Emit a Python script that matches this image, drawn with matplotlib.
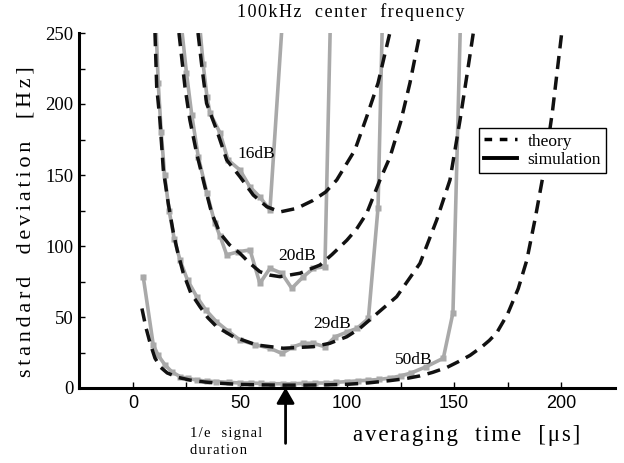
import matplotlib
matplotlib.use('Agg')
import matplotlib.pyplot as plt
from matplotlib.lines import Line2D

# theory curves (dashed)
t16_x = [30.4, 32.3, 34.4, 39.1, 43.8, 50.0, 56.2, 62.5, 68.7, 76.5, 84.0, 90.0, 95.2, 103.7, 109.2, 114.5, 120.0]
t16_y = [250, 225, 200.5, 181.7, 160.6, 148.8, 135.9, 127.7, 124.0, 126.5, 132.0, 138.0, 146.5, 167.6, 191.0, 214.7, 250]

t20_x = [21.5, 24.3, 26.6, 29.8, 33.6, 36.8, 40.7, 45.0, 50.0, 54.5, 59.3, 64.0, 68.7, 78.0, 87.4, 93.0, 99.9, 104.5, 109.2, 115.4, 120.1, 125.0, 129.4, 134.1]
t20_y = [250, 212, 188.7, 165, 141.8, 123, 109, 101, 94.8, 88, 81.9, 79.5, 78.4, 80.8, 86.6, 94, 104, 112, 123, 146.5, 162.7, 187, 214.8, 250]

t29_x = [10.3, 11.1, 12.6, 14.2, 16.5, 18.8, 21.0, 23.5, 27.0, 31.3, 35.0, 39.1, 46.9, 57.8, 70.2, 84.3, 92.0, 99.9, 106.0, 112.3, 123.2, 134.1, 141.9, 148.1, 152.8, 155.9, 159.0]
t29_y = [250, 212, 188.7, 153.5, 130, 110, 95, 81, 67, 57.3, 49.5, 43.2, 36.1, 30.3, 28, 29.1, 31.5, 36.1, 42, 50.2, 64.3, 87.8, 118.3, 146.5, 188.7, 219, 250]

t50_x = [4.2, 6.0, 8.0, 10.3, 13.0, 16.0, 21.0, 26.6, 33.0, 39.0, 50.0, 60.0, 70.0, 80.0, 90.0, 100.0, 110.0, 120.0, 127.0, 134.0, 140.0,
         146.7, 152.0, 157.5, 163.0, 166.5, 170.0, 175.0, 180.0, 184.0, 188.0, 192.0, 196.0, 200.3]
t50_y = [56, 43, 31.7, 21, 14.5, 10.6, 7.5, 5.6, 4.3, 3.5, 2.5, 2.2, 2.0, 2.0, 2.2, 2.6, 3.6, 5.2, 6.5, 8.5, 11,
         14.5, 18.5, 23, 29, 33.5, 39, 52, 70, 90, 120, 153, 195, 250]

# simulation curves (grey with square markers)
s16_x = [31.5, 32.8, 34.6, 36.0, 40.7, 44.4, 50.0, 54.7, 59.3, 64.0, 70.3]
s16_y = [250, 228, 205, 193.6, 179.6, 160.6, 153.5, 141.5, 134.5, 125.3, 270]

s20_x = [23.0, 25.0, 27.5, 30.5, 34.6, 38.3, 40.7, 43.8, 49.2, 54.7, 59.3, 64.0, 69.5, 74.2, 79.6, 84.3, 89.7, 92.4]
s20_y = [250, 222, 192, 163, 137, 116, 107, 93.7, 96.0, 97.2, 73.7, 84.3, 80.8, 70.2, 78.4, 84.3, 85.4, 270]

s29_x = [10.9, 11.8, 13.2, 14.8, 16.9, 19.3, 22.0, 25.5, 29.8, 34.0, 39.0, 44.5, 50.0, 57.0, 64.0, 69.5, 74.9, 79.6, 84.3,
         89.7, 94.4, 100.0, 104.7, 110.0, 114.5, 116.7]
s29_y = [250, 215, 180, 150, 125, 105, 90, 76, 64.3, 55, 46.7, 40, 33.8, 30.5, 28.0, 24.4, 29.0, 31.5, 31.5,
         29.0, 36.0, 39.4, 42.0, 49.0, 127.0, 270]

s50_x = [4.8, 9.5, 11.8, 15.0, 18.1, 22.0, 25.5, 29.8, 34.5, 39.0, 45.0, 50.0, 55.0, 60.0, 65.0, 70.0, 75.0, 80.0, 85.0,
         90.0, 95.0, 100.0, 105.0, 110.0, 115.0, 120.0, 125.0, 130.0, 137.0, 145.0, 149.5, 153.2]
s50_y = [78.4, 30.3, 23.0, 16.2, 11.5, 8.0, 6.8, 5.6, 4.8, 4.5, 4.0, 3.5, 3.5, 3.2, 3.0, 3.0, 3.0, 3.3, 3.5,
         3.5, 4.0, 4.5, 5.0, 5.5, 6.0, 7.0, 8.5, 10.6, 15.0, 21.0, 53.0, 270]

snr_labels = ['16dB', '20dB', '29dB', '50dB']
label_x = [57.7, 76.9, 93.2, 131.3]
label_y = [165, 93, 45, 19.7]

x_ticks = [0, 50, 100, 150, 200]
y_ticks = [0, 50, 100, 150, 200, 250]

SERIF = ['Liberation Serif', 'DejaVu Serif']
SANS = ['Liberation Sans', 'DejaVu Sans']
GREY = '#a9a9a9'
HS = '\u200a'  # hair space, used to spread letters out


def spaced(s, n=1):
    return (HS * n).join(s)


fig = plt.figure(figsize=(6.24, 4.63), dpi=100)
ax = fig.add_axes([79 / 624, 1 - 388 / 463, 536 / 624, 355 / 463])

sims = [(s16_x, s16_y), (s20_x, s20_y), (s29_x, s29_y), (s50_x, s50_y)]
for sx, sy in sims:
    ax.plot(sx, sy, color=GREY, lw=2.6, marker='s', ms=4.2, mec='none',
            markevery=slice(1, -1), zorder=2)
# the 50dB run starts inside the box, so its first point gets a marker too
ax.plot(s50_x[:1], s50_y[:1], color=GREY, marker='s', ms=4.2, mec='none', ls='none', zorder=2)

theories = [(t16_x, t16_y), (t20_x, t20_y), (t29_x, t29_y), (t50_x, t50_y)]
for tx, ty in theories:
    line, = ax.plot(tx, ty, color='#111111', lw=2.5, zorder=3)
    line.set_dashes((3.8, 2.2))

for lab, lx, ly in zip(snr_labels, label_x, label_y):
    ax.text(lx, ly, lab, family=SERIF, fontsize=12.5, ha='center', va='center', zorder=4)

ax.set_xlim(-25.2, 225.2)
ax.set_ylim(0, 250)

for side in ['top', 'right']:
    ax.spines[side].set_visible(False)
for side in ['left', 'bottom']:
    ax.spines[side].set_linewidth(2.2)

ax.set_xticks(x_ticks)
ax.set_xticks([25, 75, 125, 175], minor=True)
ax.set_yticks(y_ticks)
ax.set_yticks([25, 75, 125, 175, 225], minor=True)
ax.set_xticklabels([str(v) for v in x_ticks], family=SANS, fontsize=13)
ax.set_yticklabels([str(v) for v in y_ticks], family=SERIF, fontsize=13.5)
ax.tick_params(axis='both', which='both', direction='in', length=4, width=1)
ax.tick_params(axis='x', pad=5)
ax.tick_params(axis='y', pad=4)

# legend with plain black proxies
h_th = Line2D([], [], color='black', lw=2.5, dashes=(2.2, 2.2))
h_sim = Line2D([], [], color='black', lw=2.8)
leg = ax.legend([h_th, h_sim], ['theory', 'simulation'], loc='upper left',
                bbox_to_anchor=(0.746, 0.732), borderaxespad=0, fancybox=False,
                edgecolor='black', handlelength=1.9, handletextpad=0.6,
                borderpad=0.3, labelspacing=0.15, prop={'family': SERIF, 'size': 12.5})
leg.get_frame().set_linewidth(1.0)
leg.get_frame().set_alpha(1)

# arrow marking the 1/e signal duration
ax.annotate('', xy=(71.3, 0.3), xytext=(71.3, -39.0), annotation_clip=False,
            arrowprops=dict(arrowstyle='-|>,head_length=0.47,head_width=0.27',
                            mutation_scale=20, color='black', lw=2,
                            shrinkA=0, shrinkB=0))
ax.text(26.6, -38.0, spaced('1/e  signal') + '\n' + spaced('duration'),
        family=SERIF, fontsize=10.5, ha='left', va='center', linespacing=1.4,
        clip_on=False)

fig.text(350.5 / 624, 1 - 12 / 463, spaced('100kHz  center  frequency'),
         family=SERIF, fontsize=13, ha='center', va='center')
fig.text(26 / 624, 1 - 222 / 463, spaced('standard  deviation  [Hz]', 2),
         family=SERIF, fontsize=16, ha='center', va='center', rotation=90)
fig.text(467 / 624, 1 - 435 / 463, spaced('averaging  time  [\u03bcs]'),
         family=SERIF, fontsize=16.5, ha='center', va='center')

fig.savefig('out.png', dpi=100)
